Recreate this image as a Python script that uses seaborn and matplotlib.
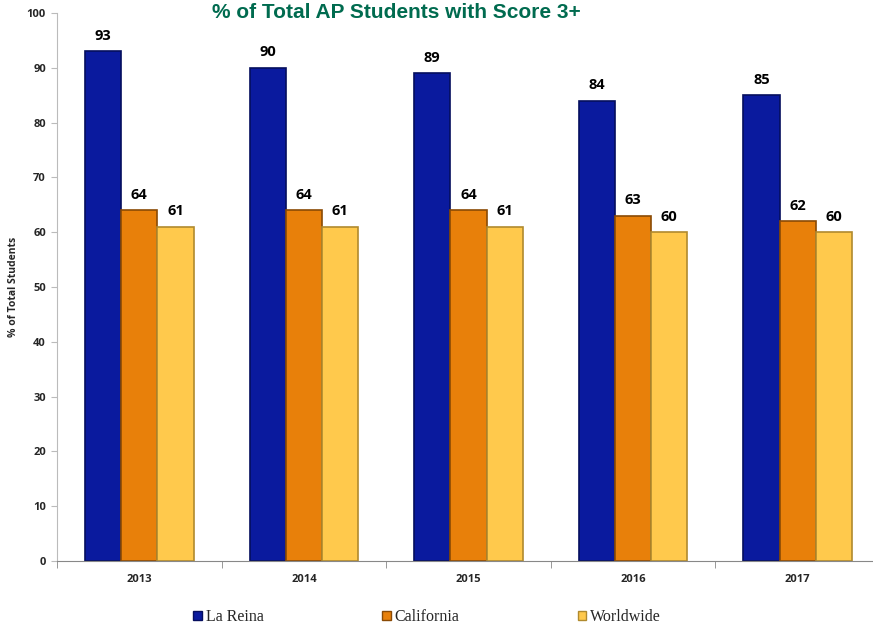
import pandas as pd
import matplotlib.pyplot as plt
import seaborn as sns
from matplotlib.patches import Patch

# datos
years = ['2013', '2014', '2015', '2016', '2017']
la_reina = [93, 90, 89, 84, 85]
california = [64, 64, 64, 63, 62]
worldwide = [61, 61, 61, 60, 60]
series = ['La Reina', 'California', 'Worldwide']

colores = ['#0A1A9E', '#E8800A', '#FFC94C']
bordes = ['#050E5E', '#8A4A05', '#B08A2E']

data = pd.DataFrame({
    'year': years * 3,
    'serie': ['La Reina'] * 5 + ['California'] * 5 + ['Worldwide'] * 5,
    'valor': la_reina + california + worldwide,
})

sns.set_style('white')
plt.rcParams['font.family'] = ['Open Sans', 'DejaVu Sans']

fig = plt.figure(figsize=(8.73, 6.28), dpi=100)
ax = fig.add_axes([57 / 873, 67 / 628, 823 / 873, 548 / 628])

sns.barplot(data=data, x='year', y='valor', hue='serie', hue_order=series,
            palette=colores, width=0.66, gap=0, ax=ax, legend=False,
            saturation=1, err_kws={'linewidth': 0})

for cont, borde in zip(ax.containers, bordes):
    for barra in cont:
        barra.set_edgecolor(borde)
        barra.set_linewidth(1.2)
    ax.bar_label(cont, padding=6, fontsize=10.5, fontweight='bold', color='black')

ax.set_ylim(0, 100)
ax.set_xlim(-0.5, 4.5)
ax.set_yticks(range(0, 101, 10))
ax.set_xlabel('')
ax.set_ylabel('% of Total Students', fontsize=7.5, fontweight='bold')
ax.yaxis.set_label_coords(-38 / 823, 0.5)
ax.tick_params(axis='y', labelsize=8, length=4, color='#BBBBBB', left=True, pad=4)
ax.tick_params(axis='x', labelsize=8, length=0, pad=9)
for lab in ax.get_xticklabels() + ax.get_yticklabels():
    lab.set_fontweight('bold')
ax.set_xticks([-0.5, 0.5, 1.5, 2.5, 3.5, 4.5], minor=True)
ax.tick_params(axis='x', which='minor', length=5, color='#888888', bottom=True)

sns.despine(ax=ax)
ax.spines['left'].set_color('#BBBBBB')
ax.spines['bottom'].set_color('#888888')

fig.text(396 / 873, 1 - 18 / 628, '% of Total AP Students with Score 3+',
         ha='center', va='baseline', fontsize=15, fontweight='bold',
         color='#006B4F', family=['Liberation Sans', 'DejaVu Sans'])

handles = [Patch(facecolor=c, edgecolor=b) for c, b in zip(colores, bordes)]
fig.legend(handles, series, loc='center left', bbox_to_anchor=(193 / 873, 1 - 617 / 628),
           ncol=3, frameon=False, borderpad=0, borderaxespad=0,
           handlelength=0.55, handleheight=0.55, handletextpad=0.25,
           columnspacing=7.4, prop={'family': 'Liberation Serif', 'size': 11.5})

fig.savefig('out.png', dpi=100)
